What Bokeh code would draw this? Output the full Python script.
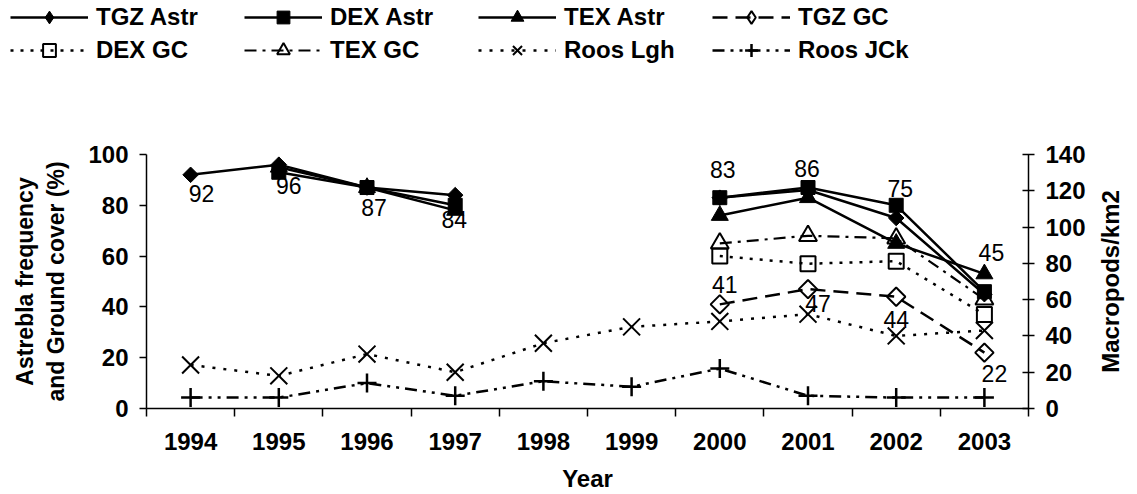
import math
from bokeh.plotting import figure
from bokeh.layouts import column, row
from bokeh.models import (Range1d, LinearAxis, FixedTicker, Legend, LegendItem,
                          ColumnDataSource, Label)
from bokeh.core.properties import value
from bokeh.embed import file_html
from bokeh.resources import INLINE

nan = float("nan")

# ---------------- data ----------------
years = ["1994", "1995", "1996", "1997", "1998", "1999", "2000", "2001", "2002", "2003"]
tgz_astr = [92, 96, 87, 84, nan, nan, 83, 86, 75, 45]
dex_astr = [nan, 93, 87, 80, nan, nan, 83, 87, 80, 46]
tex_astr = [nan, 95, 87, 78, nan, nan, 76, 83, 65, 53]
tgz_gc = [nan, nan, nan, nan, nan, nan, 41, 47, 44, 22]
dex_gc = [nan, nan, nan, nan, nan, nan, 60, 57, 58, 37]
tex_gc = [nan, nan, nan, nan, nan, nan, 65, 68, 67, 43]
roos_lgh = [24, 18, 30, 20, 36, 45, 48, 52, 40, 43]
roos_jck = [6, 6, 14, 7, 15, 12, 22, 7, 6, 6]
left_ticks = [0, 20, 40, 60, 80, 100]
right_ticks = [0, 20, 40, 60, 80, 100, 120, 140]
series_names = ["TGZ Astr", "DEX Astr", "TEX Astr", "TGZ GC",
                "DEX GC", "TEX GC", "Roos Lgh", "Roos JCk"]
left_title = "Astrebla frequency\nand Ground cover (%)"
right_title = "Macropods/km2"
x_title = "Year"

# label placement (style, screen px)
tgz_astr_lbl_dx = [11, 10, 7, -1, 0, 0, 3, -1, 4, 7]
tgz_astr_lbl_dy = [19, 21, 20, 24, 0, 0, -28, -22, -30, -42]
tgz_gc_lbl_dx = [0, 0, 0, 0, 0, 0, 5, 10, 0, 10]
tgz_gc_lbl_dy = [0, 0, 0, 0, 0, 0, -20, 14, 23, 21]

xs = list(range(len(years)))
FONT = "Liberation Sans"
LEG_H = 70
RT_W = 45
MAIN_H = 494 - LEG_H
MAIN_W = 1137 - RT_W

# styles (line style, marker style, legend marker style)
styles = {
    "TGZ Astr": (dict(line_width=2.5),
                 dict(marker="square", angle=math.pi / 4, size=11, fill_color="black"),
                 dict(marker="diamond", size=16, fill_color="black")),
    "DEX Astr": (dict(line_width=2.5),
                 dict(marker="square", size=14, fill_color="black"), None),
    "TEX Astr": (dict(line_width=2.5),
                 dict(marker="triangle", size=17, fill_color="black"), None),
    "TGZ GC": (dict(line_width=2.5, line_dash="15 8"),
               dict(marker="square", angle=math.pi / 4, size=13, line_width=2, fill_color=None),
               dict(marker="diamond", size=16, line_width=2, fill_color=None)),
    "DEX GC": (dict(line_width=2.5, line_dash="3 7"),
               dict(marker="square", size=15, line_width=2, fill_color=None), None),
    "TEX GC": (dict(line_width=2.2, line_dash="12 6 3 6"),
               dict(marker="triangle", size=18, line_width=2, fill_color=None), None),
    "Roos Lgh": (dict(line_width=2.5, line_dash="3 8"),
                 dict(marker="x", size=24, line_width=2), None),
    "Roos JCk": (dict(line_width=2.5, line_dash="12 6 3 6 3 6"),
                 dict(marker="cross", size=19, line_width=2.5), None),
}
values_by_name = {"TGZ Astr": tgz_astr, "DEX Astr": dex_astr, "TEX Astr": tex_astr,
                  "TGZ GC": tgz_gc, "DEX GC": dex_gc, "TEX GC": tex_gc,
                  "Roos Lgh": roos_lgh, "Roos JCk": roos_jck}
right_series = {"Roos Lgh", "Roos JCk"}
draw_order = ["Roos JCk", "Roos Lgh", "TEX GC", "DEX GC", "TGZ GC",
              "TEX Astr", "TGZ Astr", "DEX Astr"]


def plain(fig):
    fig.xgrid.visible = False
    fig.ygrid.visible = False
    fig.outline_line_color = None
    fig.background_fill_color = "white"
    fig.border_fill_color = "white"


# ---------------- main plot ----------------
p = figure(width=MAIN_W, height=MAIN_H,
           x_range=Range1d(-0.5, len(years) - 0.5), y_range=Range1d(0, 100),
           output_backend="svg", toolbar_location=None,
           min_border_left=146, min_border_right=MAIN_W - 1028,
           min_border_top=154 - LEG_H, min_border_bottom=86)
plain(p)
p.extra_y_ranges = {"roos": Range1d(0, 140)}

# x axis
xa = p.xaxis[0]
xa.ticker = FixedTicker(ticks=xs, minor_ticks=[i - 0.5 for i in range(len(years) + 1)])
xa.major_label_overrides = {i: y for i, y in zip(xs, years)}
xa.major_tick_out = 0
xa.major_tick_in = 0
xa.minor_tick_out = 8
xa.minor_tick_in = 0
xa.minor_tick_line_color = "black"
xa.minor_tick_line_width = 1.5
xa.axis_line_width = 1.5
xa.axis_line_color = "black"
xa.major_label_text_font = FONT
xa.major_label_text_font_style = "bold"
xa.major_label_text_font_size = "24px"
xa.major_label_text_color = "black"
xa.major_label_standoff = 16
xa.axis_label = x_title
xa.axis_label_text_font = FONT
xa.axis_label_text_font_style = "bold"
xa.axis_label_text_font_size = "24px"
xa.axis_label_text_color = "black"
xa.axis_label_standoff = 12

# left axis
ya = p.yaxis[0]
ya.ticker = FixedTicker(ticks=left_ticks)
ya.major_tick_out = 7
ya.major_tick_in = 0
ya.minor_tick_out = 0
ya.minor_tick_in = 0
ya.major_tick_line_width = 1.5
ya.axis_line_width = 1.5
ya.axis_line_color = "black"
ya.major_tick_line_color = "black"
ya.major_label_text_font = FONT
ya.major_label_text_font_style = "bold"
ya.major_label_text_font_size = "24px"
ya.major_label_text_color = "black"
ya.major_label_standoff = 11
ya.axis_label = left_title
ya.axis_label_text_font = FONT
ya.axis_label_text_font_style = "bold"
ya.axis_label_text_font_size = "23px"
ya.axis_label_text_color = "black"
ya.axis_label_standoff = 16

# right axis (ticks and numbers; its title is drawn in the strip to the right)
ra = LinearAxis(y_range_name="roos", ticker=FixedTicker(ticks=right_ticks))
ra.major_tick_out = 6
ra.major_tick_in = 6
ra.minor_tick_out = 0
ra.minor_tick_in = 0
ra.major_tick_line_width = 1.5
ra.axis_line_width = 1.5
ra.major_label_text_font = FONT
ra.major_label_text_font_style = "bold"
ra.major_label_text_font_size = "24px"
ra.major_label_text_color = "black"
ra.major_label_standoff = 11
p.add_layout(ra, "right")

for name in draw_order:
    lstyle, mstyle, _ = styles[name]
    extra = dict(y_range_name="roos") if name in right_series else {}
    source = ColumnDataSource(dict(x=xs, y=values_by_name[name]))
    p.line("x", "y", source=source, line_color="black", **lstyle, **extra)
    p.scatter("x", "y", source=source, line_color="black", **mstyle, **extra)

# data labels
def lbl_src(vals, dx, dy):
    keep = [i for i, v in enumerate(vals) if not math.isnan(v)]
    return ColumnDataSource(dict(
        x=[xs[i] for i in keep], y=[vals[i] for i in keep],
        t=[str(int(vals[i])) for i in keep],
        dx=[dx[i] for i in keep], dy=[dy[i] for i in keep]))

for vals, dx, dy in [(tgz_astr, tgz_astr_lbl_dx, tgz_astr_lbl_dy),
                     (tgz_gc, tgz_gc_lbl_dx, tgz_gc_lbl_dy)]:
    p.text("x", "y", text="t", x_offset="dx", y_offset="dy", source=lbl_src(vals, dx, dy),
           text_font=value(FONT), text_font_size="23px", text_color="black",
           text_align="center", text_baseline="middle")

# ---------------- right title strip ----------------
rf = figure(width=RT_W, height=MAIN_H, x_range=Range1d(0, 1), y_range=Range1d(0, 1),
            x_axis_type=None, y_axis_type=None, output_backend="svg",
            toolbar_location=None, min_border=0)
plain(rf)
rf.frame_align = False
frame_mid_from_bottom = 86 + (MAIN_H - (154 - LEG_H) - 86) / 2
rf.add_layout(Label(x=18, y=frame_mid_from_bottom, x_units="screen", y_units="screen",
                    text=right_title, angle=math.pi / 2, text_align="center",
                    text_baseline="middle", text_font=FONT, text_font_style="bold",
                    text_font_size="24px", text_color="black"))

# ---------------- legend strip ----------------
lf = figure(width=1137, height=LEG_H, x_range=Range1d(0, 1), y_range=Range1d(0, 1),
            x_axis_type=None, y_axis_type=None, output_backend="svg",
            toolbar_location=None, min_border=0)
plain(lf)
lf.frame_align = False

items = []
for name in series_names:
    lstyle, mstyle, legstyle = styles[name]
    mst = dict(legstyle if legstyle is not None else mstyle)
    mst.pop("angle", None)
    empty = ColumnDataSource(dict(x=[nan], y=[nan]))
    lr = lf.line("x", "y", source=empty, line_color="black", **lstyle)
    mr = lf.scatter("x", "y", source=empty, line_color="black", **mst)
    items.append(LegendItem(label=name, renderers=[lr, mr]))

legend = Legend(items=items, location=(10, LEG_H - 66), orientation="horizontal", ncols=4,
                glyph_width=78, glyph_height=32, label_height=32, label_standoff=8,
                label_width=147, spacing=1, padding=0, margin=0, border_line_alpha=0,
                background_fill_alpha=0,
                label_text_font=FONT, label_text_font_style="bold",
                label_text_font_size="24px", label_text_color="black")
lf.add_layout(legend, "center")

layout = column(lf, row(p, rf, spacing=0), spacing=0)
open("out.html", "w").write(file_html(layout, INLINE))
